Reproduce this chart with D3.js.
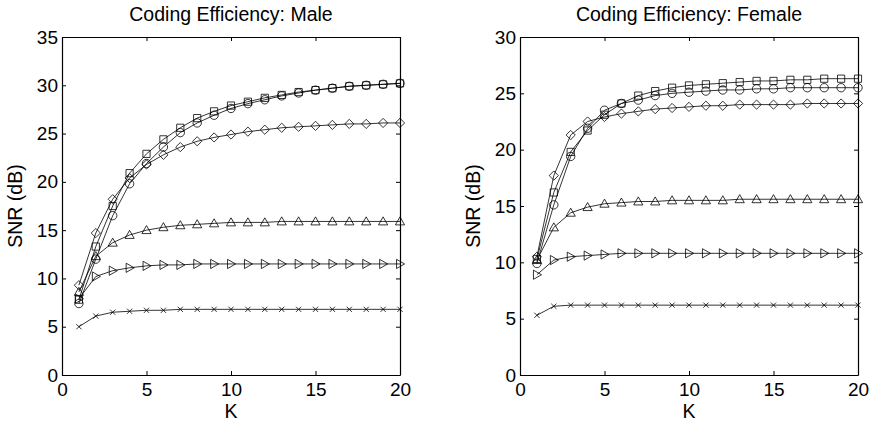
<!DOCTYPE html>
<html>
<head>
<meta charset="utf-8">
<script src="https://cdn.jsdelivr.net/npm/d3@7"></script>
<style>
  body { margin: 0; background: #fff; }
  svg { display: block; font-family: "Liberation Sans", Arial, sans-serif; }
  .axis path, .axis line { stroke: #000; }
  .axis text { font-size: 19px; fill: #000; font-family: "Liberation Sans", Arial, sans-serif; }
  .line { fill: none; stroke: #000; stroke-width: 0.8; }
  .mark { fill: none; stroke: #000; stroke-width: 0.8; }
</style>
</head>
<body>
<svg id="chart" width="870" height="422"></svg>
<script>
var K = [1, 2, 3, 4, 5, 6, 7, 8, 9, 10, 11, 12, 13, 14, 15, 16, 17, 18, 19, 20]
var xTicks = [0, 5, 10, 15, 20]

// Male
var maleSquare = [7.8, 13.3, 17.5, 20.9, 22.9, 24.4, 25.6, 26.6, 27.3, 27.9, 28.3, 28.7, 29.0, 29.3, 29.5, 29.7, 29.9, 30.0, 30.1, 30.2]
var maleCircle = [7.4, 12.0, 16.5, 19.8, 21.9, 23.6, 25.1, 26.1, 26.9, 27.6, 28.1, 28.5, 28.9, 29.2, 29.5, 29.7, 29.9, 30.0, 30.1, 30.2]
var maleDiamond = [9.3, 14.7, 18.2, 20.4, 21.8, 22.8, 23.6, 24.2, 24.6, 24.9, 25.2, 25.4, 25.6, 25.7, 25.8, 25.9, 26.0, 26.0, 26.1, 26.1]
var maleTriUp = [8.6, 12.3, 13.7, 14.5, 15.0, 15.3, 15.5, 15.6, 15.7, 15.8, 15.8, 15.8, 15.9, 15.9, 15.9, 15.9, 15.9, 15.9, 15.9, 15.9]
var maleTriRight = [7.9, 10.2, 10.8, 11.1, 11.3, 11.4, 11.4, 11.5, 11.5, 11.5, 11.5, 11.5, 11.5, 11.5, 11.5, 11.5, 11.5, 11.5, 11.5, 11.5]
var maleCross = [5.0, 6.1, 6.5, 6.6, 6.7, 6.7, 6.8, 6.8, 6.8, 6.8, 6.8, 6.8, 6.8, 6.8, 6.8, 6.8, 6.8, 6.8, 6.8, 6.8]
var maleYTicks = [0, 5, 10, 15, 20, 25, 30, 35]

// Female
var femaleSquare = [10.3, 16.2, 19.8, 21.7, 23.1, 24.1, 24.8, 25.2, 25.5, 25.7, 25.8, 25.9, 26.0, 26.1, 26.1, 26.2, 26.2, 26.3, 26.3, 26.3]
var femaleCircle = [9.9, 15.1, 19.4, 21.9, 23.5, 24.1, 24.4, 24.8, 25.0, 25.1, 25.2, 25.3, 25.3, 25.4, 25.4, 25.5, 25.5, 25.5, 25.5, 25.5]
var femaleDiamond = [10.5, 17.7, 21.3, 22.5, 22.9, 23.2, 23.4, 23.6, 23.7, 23.8, 23.9, 23.9, 24.0, 24.0, 24.0, 24.0, 24.1, 24.1, 24.1, 24.1]
var femaleTriUp = [10.2, 13.1, 14.4, 14.9, 15.2, 15.3, 15.4, 15.4, 15.5, 15.5, 15.5, 15.5, 15.6, 15.6, 15.6, 15.6, 15.6, 15.6, 15.6, 15.6]
var femaleTriRight = [8.9, 10.2, 10.5, 10.6, 10.7, 10.8, 10.8, 10.8, 10.8, 10.8, 10.8, 10.8, 10.8, 10.8, 10.8, 10.8, 10.8, 10.8, 10.8, 10.8]
var femaleCross = [5.3, 6.1, 6.2, 6.2, 6.2, 6.2, 6.2, 6.2, 6.2, 6.2, 6.2, 6.2, 6.2, 6.2, 6.2, 6.2, 6.2, 6.2, 6.2, 6.2]
var femaleYTicks = [0, 5, 10, 15, 20, 25, 30]

// marker paths, centered at 0,0
var markers = {
    square: function(s) { return 'M' + (-s) + ',' + (-s) + 'H' + s + 'V' + s + 'H' + (-s) + 'Z' },
    circle: function(s) { return 'M' + (-s) + ',0A' + s + ',' + s + ' 0 1,0 ' + s + ',0A' + s + ',' + s + ' 0 1,0 ' + (-s) + ',0Z' },
    diamond: function(s) { return 'M0,' + (-s) + 'L' + s + ',0L0,' + s + 'L' + (-s) + ',0Z' },
    triUp: function(s) { return 'M0,' + (-s) + 'L' + s + ',' + (s * 0.75) + 'L' + (-s) + ',' + (s * 0.75) + 'Z' },
    triRight: function(s) { return 'M' + s + ',0L' + (-s * 0.75) + ',' + (-s) + 'L' + (-s * 0.75) + ',' + s + 'Z' },
    cross: function(s) { return 'M' + (-s) + ',' + (-s) + 'L' + s + ',' + s + 'M' + (-s) + ',' + s + 'L' + s + ',' + (-s) }
}
var markerSize = {square: 3.6, circle: 4.2, diamond: 4.6, triUp: 4.6, triRight: 4.6, cross: 2.6}

var svg = d3.select('#chart')

function drawPanel(opts) {
    var size = 338
    var g = svg.append('g').attr('transform', 'translate(' + opts.left + ',' + opts.top + ')')

    var x = d3.scaleLinear().domain([0, 20]).range([0, size])
    var y = d3.scaleLinear().domain([0, opts.yMax]).range([size, 0])

    // axes with inward ticks on all four sides
    g.append('g').attr('class', 'axis')
        .attr('transform', 'translate(0,' + size + ')')
        .call(d3.axisBottom(x).tickValues(xTicks).tickSizeInner(-4).tickSizeOuter(0).tickPadding(8))
    g.append('g').attr('class', 'axis')
        .call(d3.axisLeft(y).tickValues(opts.yTicks).tickSizeInner(-4).tickSizeOuter(0).tickPadding(4))
    g.append('g').attr('class', 'axis')
        .call(d3.axisTop(x).tickValues(xTicks).tickSizeInner(-4).tickSizeOuter(0).tickFormat(''))
    g.append('g').attr('class', 'axis')
        .attr('transform', 'translate(' + size + ',0)')
        .call(d3.axisRight(y).tickValues(opts.yTicks).tickSizeInner(-4).tickSizeOuter(0).tickFormat(''))
    g.selectAll('.axis .domain').attr('stroke-width', 1.2)

    var line = d3.line()
        .x(function(d, i) { return x(K[i]) })
        .y(function(d) { return y(d) })

    opts.series.forEach(function(s) {
        g.append('path')
            .datum(s.values)
            .attr('class', 'line')
            .attr('d', line)
        g.selectAll(null)
            .data(s.values)
            .enter().append('path')
            .attr('class', 'mark')
            .attr('transform', function(d, i) { return 'translate(' + x(K[i]) + ',' + y(d) + ')' })
            .attr('d', markers[s.marker](markerSize[s.marker]))
    })

    // title and labels
    g.append('text')
        .attr('x', size / 2).attr('y', -16)
        .attr('text-anchor', 'middle')
        .style('font-size', '19.5px')
        .text(opts.title)
    g.append('text')
        .attr('x', size / 2).attr('y', size + 43)
        .attr('text-anchor', 'middle')
        .style('font-size', '19.5px')
        .text('K')
    g.append('text')
        .attr('transform', 'translate(' + (-40) + ',' + (size / 2) + ') rotate(-90)')
        .attr('text-anchor', 'middle')
        .style('font-size', '19.5px')
        .text('SNR (dB)')
}

drawPanel({
    left: 62, top: 37, yMax: 35, yTicks: maleYTicks,
    title: 'Coding Efficiency: Male',
    series: [
        {values: maleSquare, marker: 'square'},
        {values: maleCircle, marker: 'circle'},
        {values: maleDiamond, marker: 'diamond'},
        {values: maleTriUp, marker: 'triUp'},
        {values: maleTriRight, marker: 'triRight'},
        {values: maleCross, marker: 'cross'}
    ]
})

drawPanel({
    left: 520, top: 37, yMax: 30, yTicks: femaleYTicks,
    title: 'Coding Efficiency: Female',
    series: [
        {values: femaleSquare, marker: 'square'},
        {values: femaleCircle, marker: 'circle'},
        {values: femaleDiamond, marker: 'diamond'},
        {values: femaleTriUp, marker: 'triUp'},
        {values: femaleTriRight, marker: 'triRight'},
        {values: femaleCross, marker: 'cross'}
    ]
})
</script>
</body>
</html>
